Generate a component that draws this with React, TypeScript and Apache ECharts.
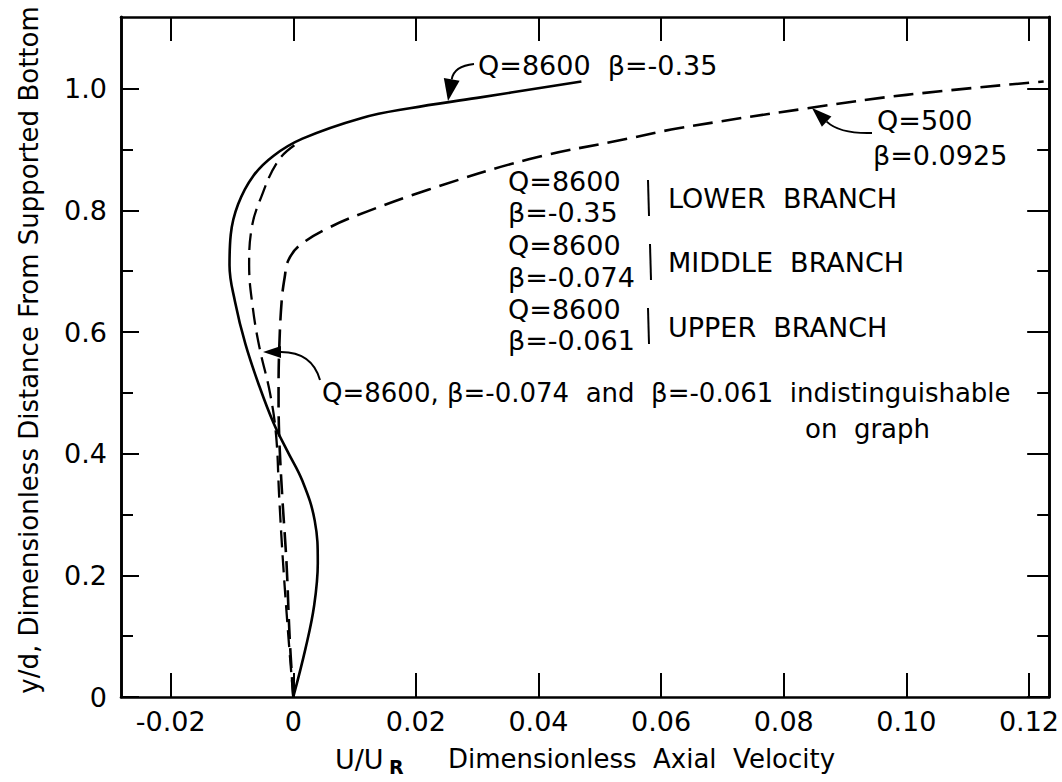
import React, { useEffect, useRef } from "react";
import * as echarts from "echarts";

// Axis ticks
const xTicks = [-0.02, 0, 0.02, 0.04, 0.06, 0.08, 0.1, 0.12];
const yMajorTicks = [0, 0.2, 0.4, 0.6, 0.8, 1.0];
const yMinorTicks = [0.1, 0.3, 0.5, 0.7, 0.9];

// Velocity profiles: [U/U_R, y/d]
// Q=8600, beta=-0.35 (lower branch), solid
const lowerBranch: [number, number][] = [
  [0, 0], [0.002, 0.08], [0.0034, 0.15], [0.004, 0.22], [0.0035, 0.29],
  [0.0015, 0.355], [-0.001, 0.405], [-0.0032, 0.45], [-0.0055, 0.51],
  [-0.0078, 0.58], [-0.0095, 0.65], [-0.0104, 0.71], [-0.0102, 0.76],
  [-0.009, 0.81], [-0.0065, 0.857], [-0.0032, 0.89], [0.0015, 0.918],
  [0.0112, 0.952], [0.019, 0.968], [0.03, 0.985], [0.047, 1.012],
];
// Q=8600, beta=-0.074 / -0.061 (middle and upper branch), dashed
const middleUpperBranch: [number, number][] = [
  [0, 0], [-0.0008, 0.1], [-0.0017, 0.226], [-0.0023, 0.33], [-0.0028, 0.43],
  [-0.0038, 0.5], [-0.0055, 0.574], [-0.0066, 0.64], [-0.0072, 0.71],
  [-0.0068, 0.77], [-0.0055, 0.815], [-0.0023, 0.884], [0.0012, 0.914],
];
// Q=500, beta=0.0925, dashed
const q500Profile: [number, number][] = [
  [0, 0], [-0.0006, 0.1], [-0.0011, 0.22], [-0.0018, 0.33], [-0.0023, 0.43],
  [-0.0024, 0.5], [-0.0023, 0.57], [-0.0019, 0.65], [-0.0014, 0.69],
  [-0.0008, 0.718], [0.001, 0.742], [0.0059, 0.772], [0.012, 0.798],
  [0.022, 0.834], [0.0384, 0.884], [0.0546, 0.918], [0.0628, 0.935],
  [0.0839, 0.968], [0.1, 0.99], [0.1224, 1.012],
];

const FONT = "'DejaVu Sans', sans-serif";
const FS = 27;

function label(text: string, x: number, y: number, extra: any = {}) {
  return {
    type: "text",
    x,
    y,
    silent: true,
    style: {
      text,
      fill: "#000",
      fontSize: FS,
      fontFamily: FONT,
      align: "left",
      verticalAlign: "middle",
      ...extra,
    },
  };
}

// Curved leader with a filled arrowhead at (tx, ty)
function arrow(
  x0: number, y0: number, cx: number, cy: number, tx: number, ty: number,
  len = 18, hw = 6
) {
  const ang = Math.atan2(ty - cy, tx - cx);
  const bx = tx - len * Math.cos(ang);
  const by = ty - len * Math.sin(ang);
  const nx = -Math.sin(ang);
  const ny = Math.cos(ang);
  return [
    {
      type: "bezierCurve",
      silent: true,
      shape: { x1: x0, y1: y0, cpx1: cx, cpy1: cy, x2: bx, y2: by },
      style: { stroke: "#000", lineWidth: 2, fill: null },
    },
    {
      type: "polygon",
      silent: true,
      shape: {
        points: [
          [tx, ty],
          [bx + nx * hw, by + ny * hw],
          [bx - nx * hw, by - ny * hw],
        ],
      },
      style: { fill: "#000" },
    },
  ];
}

function bracket(x: number, cy: number) {
  return {
    type: "line",
    silent: true,
    shape: { x1: x, y1: cy - 18, x2: x + 1, y2: cy + 18 },
    style: { stroke: "#000", lineWidth: 2 },
  };
}

const X_MIN = -0.0281;
const X_MAX = 0.1233;
const Y_MIN = 0;
const Y_MAX = 1.118;

const axisLine = { show: true, onZero: false, lineStyle: { color: "#000", width: 2.6 } };

function xAxis(position: "bottom" | "top", withLabels: boolean) {
  return {
    type: "value",
    position,
    min: X_MIN,
    max: X_MAX,
    axisLine,
    splitLine: { show: false },
    axisTick: {
      show: true,
      inside: true,
      length: 24,
      customValues: xTicks,
      lineStyle: { color: "#000", width: 2 },
    },
    axisLabel: {
      show: withLabels,
      customValues: xTicks,
      margin: 11,
      color: "#000",
      fontSize: FS,
      fontFamily: FONT,
      formatter: (v: number) => (v === 0 ? "0" : v.toFixed(2)),
    },
  };
}

function yAxis(position: "left" | "right", ticks: number[], len: number, withLabels: boolean) {
  return {
    type: "value",
    position,
    min: Y_MIN,
    max: Y_MAX,
    axisLine,
    splitLine: { show: false },
    axisTick: {
      show: true,
      inside: true,
      length: len,
      customValues: ticks,
      lineStyle: { color: "#000", width: 2 },
    },
    axisLabel: {
      show: withLabels,
      customValues: ticks,
      margin: 14,
      color: "#000",
      fontSize: FS,
      fontFamily: FONT,
      formatter: (v: number) => (v === 0 ? "0" : v.toFixed(1)),
    },
  };
}

export default function App() {
  const ref = useRef<HTMLDivElement>(null);

  useEffect(() => {
    if (!ref.current) return;
    const chart = echarts.init(ref.current, null, { renderer: "svg" });

    const graphic: any[] = [
      // axis titles
      label("y/d, Dimensionless Distance From Supported Bottom", 29, 350, {
        align: "center",
        fontSize: 26,
      }),
      label("U/U", 335, 759),
      label("R", 389, 767, { fontSize: 19, fontWeight: "bold" }),
      label("Dimensionless  Axial  Velocity", 448, 759, { fontSize: 26 }),

      // curve annotations
      label("Q=8600  β=-0.35", 478, 65),
      ...arrow(474, 64, 454, 66, 448, 101, 22, 8),

      label("Q=500", 877, 120),
      label("β=0.0925", 873, 155),
      ...arrow(872, 133, 840, 134, 812, 108, 20, 7),

      label("Q=8600", 508, 181),
      label("β=-0.35", 508, 212),
      bracket(648, 198),
      label("LOWER  BRANCH", 668, 198),

      label("Q=8600", 508, 245),
      label("β=-0.074", 508, 277),
      bracket(650, 262),
      label("MIDDLE  BRANCH", 668, 262),

      label("Q=8600", 508, 309),
      label("β=-0.061", 508, 340),
      bracket(648, 326),
      label("UPPER  BRANCH", 668, 327),

      label("Q=8600, β=-0.074  and  β=-0.061  indistinguishable", 322, 393, {
        fontSize: 26,
      }),
      label("on  graph", 805, 429, { fontSize: 26 }),
      ...arrow(320, 380, 312, 352, 263, 352),
    ];
    // rotate the y-axis title
    graphic[0].rotation = Math.PI / 2;

    chart.setOption({
      animation: false,
      backgroundColor: "#fff",
      textStyle: { fontFamily: FONT },
      grid: { left: 121, right: 10, top: 17, bottom: 85, containLabel: false },
      xAxis: [xAxis("bottom", true), xAxis("top", false)],
      yAxis: [
        yAxis("left", yMajorTicks, 18, true),
        yAxis("left", yMinorTicks, 12, false),
        yAxis("right", yMajorTicks, 22, false),
        yAxis("right", yMinorTicks, 12, false),
      ],
      series: [
        {
          type: "line",
          name: "Q=8600 β=-0.35",
          data: lowerBranch,
          smooth: 0.4,
          symbol: "none",
          lineStyle: { color: "#000", width: 2.6 },
          z: 3,
        },
        {
          type: "line",
          name: "Q=8600 β=-0.074 / -0.061",
          data: middleUpperBranch,
          smooth: 0.4,
          symbol: "none",
          lineStyle: { color: "#000", width: 2.3, type: [17, 8] },
          z: 2,
        },
        {
          type: "line",
          name: "Q=500 β=0.0925",
          data: q500Profile,
          smooth: 0.4,
          symbol: "none",
          lineStyle: { color: "#000", width: 2.6, type: [20, 9] },
          z: 2,
        },
      ],
      graphic,
    });

    return () => chart.dispose();
  }, []);

  return (
    <div
      ref={ref}
      style={{ position: "absolute", left: 0, top: 0, width: 1062, height: 782 }}
    />
  );
}
